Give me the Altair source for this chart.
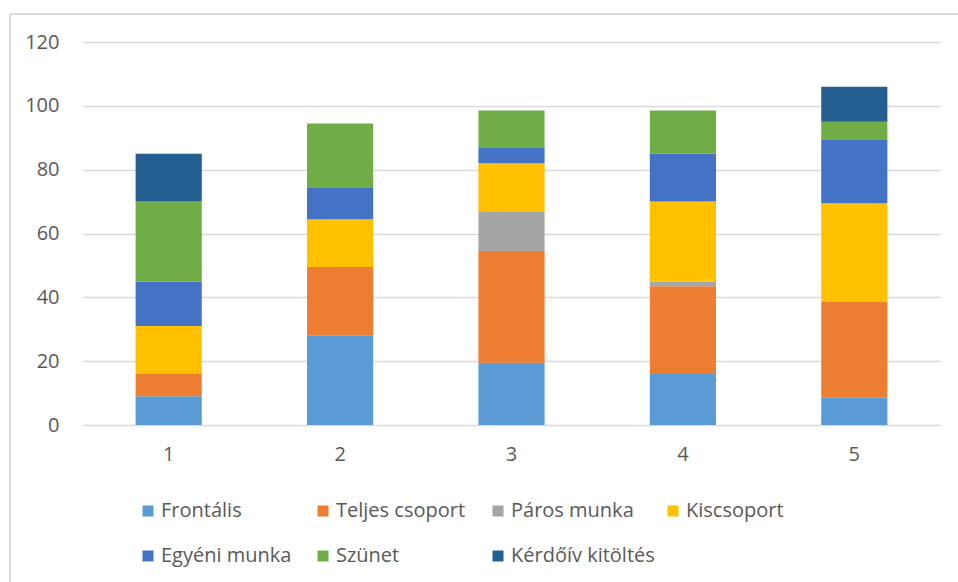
import altair as alt
import pandas as pd

# Lesson number on the x axis
lessons = ["1", "2", "3", "4", "5"]

# Minutes spent in each activity type, per lesson
series_names = [
    "Frontális",
    "Teljes csoport",
    "Páros munka",
    "Kiscsoport",
    "Egyéni munka",
    "Szünet",
    "Kérdőív kitöltés",
]
frontalis = [9, 28, 19.5, 16, 8.5]
teljes_csoport = [7, 21.5, 35, 27.5, 30]
paros_munka = [0, 0, 12.5, 1.5, 0]
kiscsoport = [15, 15, 15, 25, 31]
egyeni_munka = [14, 10, 5, 15, 20]
szunet = [25, 20, 11.5, 13.5, 5.5]
kerdoiv = [15, 0, 0, 0, 11]

series_values = [frontalis, teljes_csoport, paros_munka, kiscsoport,
                 egyeni_munka, szunet, kerdoiv]
series_colors = ["#5B9BD5", "#ED7D31", "#A5A5A5", "#FFC000",
                 "#4472C4", "#70AD47", "#255E91"]

y_ticks = [0, 20, 40, 60, 80, 100, 120]

rows = []
for order, (name, values) in enumerate(zip(series_names, series_values)):
    for lesson, v in zip(lessons, values):
        if v > 0:
            rows.append({"lesson": lesson, "activity": name, "value": v, "order": order})
df = pd.DataFrame(rows)

FONT = "Open Sans"
FONT_SIZE = 20
LABEL_COLOR = "#595959"
GRID_COLOR = "#D9D9D9"

bars = alt.Chart(df).mark_bar().encode(
    x=alt.X("lesson:N", sort=lessons, title=None,
            scale=alt.Scale(paddingInner=0.614, paddingOuter=0.307),
            axis=alt.Axis(labelAngle=0, ticks=False, domain=False,
                          labelPadding=19, labelFontSize=FONT_SIZE,
                          labelColor=LABEL_COLOR, labelFont=FONT)),
    y=alt.Y("sum(value):Q", stack="zero", title=None,
            scale=alt.Scale(domain=[0, 120], nice=False),
            axis=alt.Axis(values=y_ticks, ticks=False, domain=False,
                          gridColor=GRID_COLOR, gridWidth=1.3,
                          labelPadding=24, labelFontSize=FONT_SIZE,
                          labelColor=LABEL_COLOR, labelFont=FONT)),
    color=alt.Color("activity:N",
                    scale=alt.Scale(domain=series_names, range=series_colors),
                    legend=alt.Legend(title=None, orient="none",
                                      legendX=55, legendY=459,
                                      direction="horizontal", columns=4,
                                      gridAlign="all", columnPadding=8,
                                      rowPadding=25, padding=0,
                                      symbolType="square", symbolSize=121,
                                      symbolStrokeWidth=0, labelOffset=3,
                                      labelFontSize=FONT_SIZE, labelColor=LABEL_COLOR,
                                      labelFont=FONT, labelLimit=300)),
    order=alt.Order("order:Q", sort="ascending"),
)

# Outer chart frame (top and left edges)
frame_top = alt.Chart().mark_rule(color="#D9D9D9", strokeWidth=2).encode(
    x=alt.value(-73), x2=alt.value(900), y=alt.value(-28))
frame_left = alt.Chart().mark_rule(color="#D9D9D9", strokeWidth=2).encode(
    x=alt.value(-73), y=alt.value(-28), y2=alt.value(560))

chart = alt.layer(frame_top, frame_left, bars).properties(
    width=857, height=383,
    autosize=alt.AutoSizeParams(type="none"),
    padding={"left": 83, "top": 42, "right": 18, "bottom": 157},
    background="white",
).configure_view(stroke=None)

chart.save("out.html", embed_options={"renderer": "svg", "actions": False})
